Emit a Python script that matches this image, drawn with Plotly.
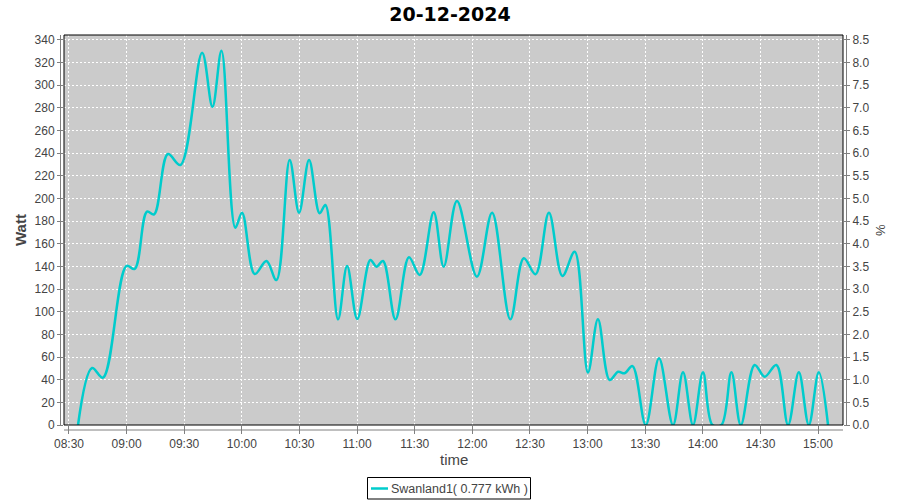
import plotly.graph_objects as go

# ---- data ----
day = "2024-12-20"
times = [
    "08:34:42", "08:42:00", "08:47:42", "08:59:54", "09:04:12", "09:10:36",
    "09:14:18", "09:21:30", "09:28:00", "09:39:18", "09:44:42", "09:49:24",
    "09:56:36", "10:00:06", "10:06:42", "10:12:48", "10:18:00", "10:24:54",
    "10:29:48", "10:35:00", "10:40:30", "10:43:30", "10:50:06", "10:54:48",
    "11:00:06", "11:06:54", "11:10:06", "11:13:30", "11:20:00", "11:27:00",
    "11:32:36", "11:39:54", "11:45:06", "11:52:00", "12:02:24", "12:10:18",
    "12:19:48", "12:26:48", "12:32:54", "12:39:54", "12:46:54", "12:53:18",
    "13:00:12", "13:05:24", "13:11:30", "13:15:54", "13:19:18", "13:23:24",
    "13:30:18", "13:37:12", "13:44:30", "13:49:42", "13:54:54", "14:00:06",
    "14:05:00", "14:09:42", "14:14:54", "14:19:48", "14:27:00", "14:32:12",
    "14:38:18", "14:44:24", "14:50:00", "14:55:12", "15:00:24", "15:05:12",
]
watt = [
    0, 50.3, 41.8, 140.4, 137.8, 188.4,
    186, 239.3, 229.6, 328.8, 281, 330.5,
    174.2, 187.5, 133.3, 144.8, 128, 234,
    187.5, 234, 187, 194.3, 93.3, 140.4,
    93.6, 145.7, 139.8, 144.8, 93.3, 148.1,
    132.5, 187.8, 139.8, 197.8, 131, 187.5,
    93.3, 147.2, 133.1, 187.5, 131.6, 153,
    46.4, 93.3, 39.7, 47, 45.7, 52,
    0, 58.9, 0, 46.5, 0, 46.5,
    0, 0, 46.5, 0, 53, 42.7,
    53, 0, 46.5, 0, 46.5, 0,
]
series_name = "Swanland1( 0.777 kWh )"
title_text = "20-12-2024"
x_ticks = ["08:30", "09:00", "09:30", "10:00", "10:30", "11:00", "11:30",
           "12:00", "12:30", "13:00", "13:30", "14:00", "14:30", "15:00"]
y_ticks = list(range(0, 341, 20))
pct_ticks = [i * 0.5 for i in range(0, 18)]
watt_per_pct = 40.0

x_vals = [f"{day} {t}" for t in times]
x_range = [f"{day} 08:27:24", f"{day} 15:13:00"]
y_max = 344.4

LINE_COLOR = "#00cccc"
TICK_FONT = dict(family="Liberation Sans", size=12, color="#444444")
AXIS_GRAY = "#808080"

# plot-area geometry in pixels
ML, MR, MT, MB = 64, 57, 35, 75
pw, ph = 900.0 - ML - MR, 500.0 - MT - MB


def px_x(px):
    return (px - ML) / pw


def px_y(py):
    return (500 - MB - py) / ph


fig = go.Figure()
fig.add_trace(go.Scatter(
    x=x_vals, y=watt, mode="lines", name=series_name,
    line=dict(color=LINE_COLOR, width=2.5, shape="spline", smoothing=1),
    showlegend=False,
))
# invisible trace to activate right axis
fig.add_trace(go.Scatter(
    x=[x_vals[0]], y=[0], yaxis="y2", mode="markers",
    marker=dict(opacity=0), showlegend=False, hoverinfo="skip",
))

fig.update_layout(
    width=900, height=500,
    margin=dict(l=ML, r=MR, t=MT, b=MB, autoexpand=False),
    paper_bgcolor="white",
    plot_bgcolor="#cbcbcb",
    title=dict(text=title_text, x=0.5, xanchor="center", y=1 - 14 / 500, yanchor="middle",
               font=dict(family="DejaVu Sans", size=19, color="black", weight="bold")),
    xaxis=dict(
        type="date", range=x_range,
        tickvals=[f"{day} {t}" for t in x_ticks], ticktext=x_ticks,
        showgrid=True, gridcolor="white", griddash="2px,2px", gridwidth=1,
        ticks="outside", ticklen=8, tickcolor=AXIS_GRAY, tickwidth=1,
        tickfont=TICK_FONT, showline=False, zeroline=False,
    ),
    yaxis=dict(
        range=[0, y_max], tickvals=y_ticks,
        showgrid=True, gridcolor="white", griddash="2px,2px", gridwidth=1,
        ticks="outside", ticklen=6, tickcolor=AXIS_GRAY, tickwidth=1,
        tickfont=TICK_FONT, showline=False, zeroline=False,
    ),
    yaxis2=dict(
        overlaying="y", side="right",
        range=[0, y_max / watt_per_pct], tickvals=pct_ticks,
        ticktext=[f"{v:.1f}" for v in pct_ticks],
        showgrid=False, zeroline=False,
        ticks="outside", ticklen=6, tickcolor=AXIS_GRAY, tickwidth=1,
        tickfont=TICK_FONT, showline=False,
    ),
    showlegend=False,
)

shapes = [
    # plot border
    dict(type="rect", xref="paper", yref="paper", x0=0, x1=1, y0=0, y1=1,
         line=dict(color="black", width=1), layer="above"),
    # offset axis lines
    dict(type="line", xref="paper", yref="paper", x0=px_x(60.5), x1=px_x(60.5),
         y0=px_y(426), y1=1, line=dict(color=AXIS_GRAY, width=1)),
    dict(type="line", xref="paper", yref="paper", x0=px_x(846.5), x1=px_x(846.5),
         y0=px_y(426), y1=1, line=dict(color=AXIS_GRAY, width=1)),
    dict(type="line", xref="paper", yref="paper", x0=0, x1=1, y0=px_y(430), y1=px_y(430),
         line=dict(color=AXIS_GRAY, width=1)),
    # legend box
    dict(type="rect", xref="paper", yref="paper", x0=px_x(367.5), x1=px_x(530.5),
         y0=px_y(499), y1=px_y(477.5), line=dict(color="black", width=1),
         fillcolor="white"),
    dict(type="line", xref="paper", yref="paper", x0=px_x(371), x1=px_x(388),
         y0=px_y(488.5), y1=px_y(488.5), line=dict(color=LINE_COLOR, width=2.5)),
]
fig.update_layout(shapes=shapes)

annotations = [
    dict(text="Watt", xref="paper", yref="paper", x=px_x(20), y=0.5,
         xanchor="center", yanchor="middle", textangle=-90, showarrow=False,
         font=dict(family="Liberation Sans", size=15, color="#444444", weight="bold")),
    dict(text="%", xref="paper", yref="paper", x=px_x(880), y=0.5,
         xanchor="center", yanchor="middle", textangle=-90, showarrow=False,
         font=dict(family="Liberation Sans", size=13, color="#444444")),
    dict(text="time", xref="paper", yref="paper", x=0.5, y=px_y(460),
         xanchor="center", yanchor="middle", showarrow=False,
         font=dict(family="Liberation Sans", size=15, color="#444444")),
    dict(text=series_name, xref="paper", yref="paper", x=px_x(389), y=px_y(488.5),
         xanchor="left", yanchor="middle", showarrow=False,
         font=dict(family="Liberation Sans", size=12.5, color="#444444")),
]
fig.update_layout(annotations=annotations)

fig.write_html("out.html", config={"displayModeBar": False},
               post_script="document.body.style.margin='0px';")
